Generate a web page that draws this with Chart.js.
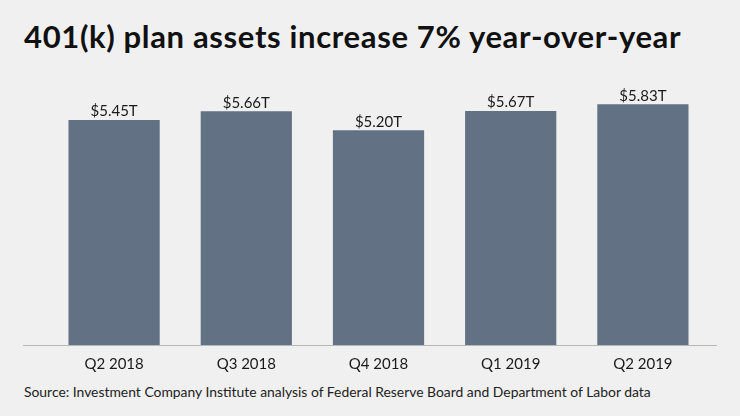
<!DOCTYPE html>
<html lang="en">
<head>
    <meta charset="UTF-8">
    <title>401(k) plan assets</title>
    <script src="https://cdn.jsdelivr.net/npm/chart.js"></script>
    <style>
        html, body {
            margin: 0;
            padding: 0;
            background: #eff0ef;
            width: 740px;
            height: 416px;
            overflow: hidden;
            font-family: "Lato", sans-serif;
            color: #111;
        }
        .title {
            position: absolute;
            left: 24px;
            top: 17px;
            font-size: 31px;
            font-weight: bold;
            letter-spacing: 0.65px;
        }
        .chart-box {
            position: absolute;
            left: 0;
            top: 75px;
            width: 740px;
            height: 300px;
        }
        .source {
            position: absolute;
            left: 24px;
            top: 383px;
            font-size: 13.9px;
            color: #222;
        }
    </style>
</head>
<body>
    <div class="title">401(k) plan assets increase 7% year-over-year</div>
    <div class="chart-box">
        <canvas id="assetsChart"></canvas>
    </div>
    <div class="source">Source: Investment Company Institute analysis of Federal Reserve Board and Department of Labor data</div>

    <script>
        // Données du graphique
        const quarters = ["Q2 2018", "Q3 2018", "Q4 2018", "Q1 2019", "Q2 2019"];
        const assets = [5.45, 5.66, 5.20, 5.67, 5.83];

        // étiquettes au-dessus des barres + ligne de base
        const barLabels = {
            id: 'barLabels',
            afterDatasetsDraw(chart) {
                const ctx = chart.ctx;
                const meta = chart.getDatasetMeta(0);
                ctx.save();
                ctx.font = '15px Lato';
                ctx.fillStyle = '#1a1a1a';
                ctx.textAlign = 'center';
                ctx.textBaseline = 'bottom';
                meta.data.forEach(function(bar, i) {
                    ctx.fillText('$' + assets[i].toFixed(2) + 'T', bar.x, bar.y - 1);
                });
                const y = chart.chartArea.bottom + 0.5;
                ctx.strokeStyle = '#b5b7b8';
                ctx.lineWidth = 1;
                ctx.beginPath();
                ctx.moveTo(23, y);
                ctx.lineTo(717, y);
                ctx.stroke();
                ctx.restore();
            }
        };

        new Chart(document.getElementById('assetsChart'), {
            type: 'bar',
            data: {
                labels: quarters,
                datasets: [{
                    data: assets,
                    backgroundColor: '#637184',
                    categoryPercentage: 1,
                    barPercentage: 0.69
                }]
            },
            options: {
                responsive: true,
                maintainAspectRatio: false,
                animation: false,
                layout: { padding: { left: 48, right: 31, top: 0, bottom: 0 } },
                plugins: {
                    legend: { display: false },
                    tooltip: { enabled: false }
                },
                scales: {
                    x: {
                        grid: { display: false },
                        border: { display: false },
                        ticks: {
                            color: '#1a1a1a',
                            font: { family: 'Lato', size: 15 },
                            padding: 2
                        }
                    },
                    y: {
                        display: false,
                        min: 0,
                        max: 6.54
                    }
                }
            },
            plugins: [barLabels]
        });
    </script>
</body>
</html>
